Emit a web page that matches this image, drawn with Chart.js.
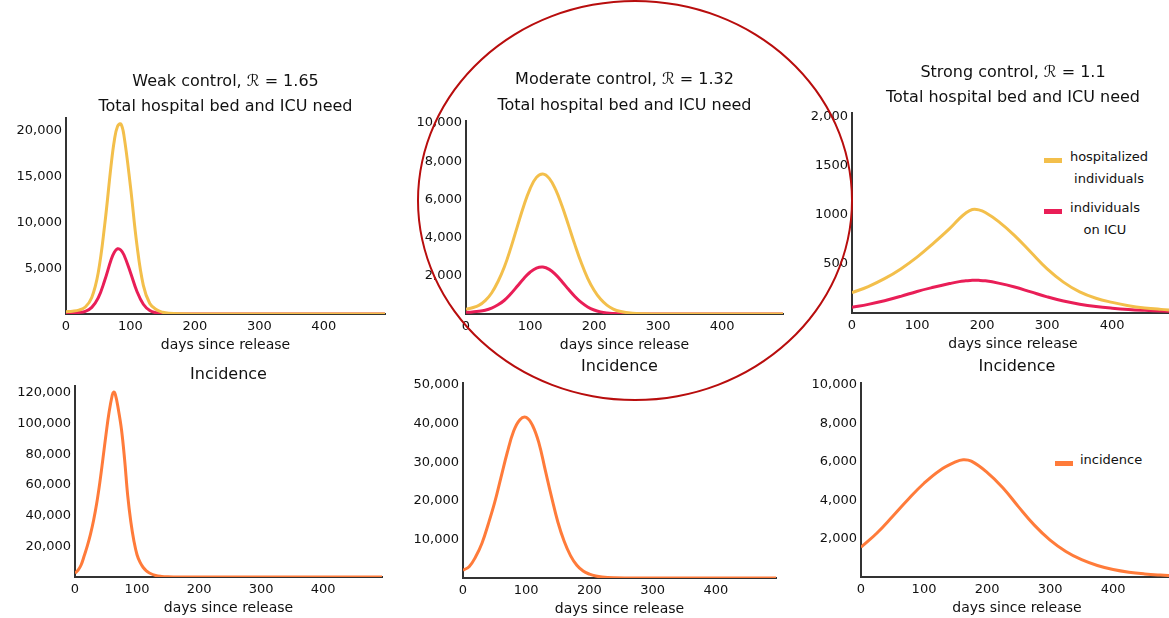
<!DOCTYPE html>
<html>
<head>
<meta charset="utf-8">
<script src="https://cdn.jsdelivr.net/npm/chart.js@4.4.1/dist/chart.umd.min.js"></script>
<style>
html, body { margin: 0; padding: 0; background: #fff; overflow: hidden; width: 1169px; height: 618px; }
body { position: relative; font-family: 'DejaVu Sans', sans-serif; color: #111; }
canvas { position: absolute; }
.legend { position: absolute; font-size: 13px; line-height: 22px; text-align: center; }
.swatch { position: absolute; width: 18px; height: 5px; }
#ring { position: absolute; box-sizing: border-box; border: 2.5px solid #b80d0d; border-radius: 50%;
        left: 417px; top: 0px; width: 436px; height: 401px; pointer-events: none; }
</style>
</head>
<body>

<div class="swatch" style="left:1044px;top:158px;background:#f3bf4b"></div>
<div class="legend" style="left:1066px;top:146px;width:86px">hospitalized<br>individuals</div>
<div class="swatch" style="left:1044px;top:209px;background:#e91e57"></div>
<div class="legend" style="left:1062px;top:197px;width:86px">individuals<br>on ICU</div>

<div class="swatch" style="left:1055px;top:461px;background:#ff7b3a"></div>
<div class="legend" style="left:1080px;top:449px">incidence</div>

<script>
// x axis (days since release)
const xTicks = [0, 100, 200, 300, 400];
const xMax = 495;

// weak control, R = 1.65
const weakDays = [0, 10, 20, 30, 40, 50, 60, 70, 75, 80, 85, 90, 100, 110, 120, 130, 140, 150, 160, 180, 200, 250, 300, 400, 495];
const weakHosp = [250, 300, 420, 760, 1800, 4500, 9700, 16250, 18950, 20500, 20750, 19450, 13940, 7580, 3130, 1150, 480, 190, 80, 20, 5, 0, 0, 0, 0];
const weakIcu  = [100, 120, 170, 290, 720, 1750, 3650, 5920, 6745, 7120, 6990, 6440, 4540, 2490, 1065, 380, 140, 55, 20, 5, 0, 0, 0, 0, 0];
const weakYTicks = [5000, 10000, 15000, 20000];
const weakYLabels = ['5,000', '10,000', '15,000', '20,000'];

// moderate control, R = 1.32
const modDays = [0, 10, 20, 30, 40, 50, 60, 70, 80, 90, 100, 110, 120, 130, 140, 150, 160, 170, 180, 190, 200, 210, 220, 230, 240, 260, 280, 300, 400, 495];
const modHosp = [250, 330, 450, 700, 1100, 1700, 2470, 3460, 4560, 5640, 6550, 7150, 7330, 7100, 6510, 5650, 4650, 3630, 2680, 1870, 1245, 780, 465, 260, 140, 35, 10, 0, 0, 0];
const modIcu  = [90, 110, 140, 200, 310, 480, 720, 1060, 1450, 1850, 2185, 2400, 2455, 2335, 2060, 1690, 1290, 915, 605, 370, 210, 110, 55, 28, 15, 0, 0, 0, 0, 0];
const modYTicks = [2000, 4000, 6000, 8000, 10000];
const modYLabels = ['2,000', '4,000', '6,000', '8,000', '10,000'];

// strong control, R = 1.1
const strongDays = [0, 25, 50, 75, 100, 125, 150, 165, 175, 185, 195, 205, 225, 250, 275, 300, 325, 350, 375, 400, 425, 450, 475, 495];
const strongHosp = [207, 270, 350, 450, 570, 710, 860, 962, 1020, 1055, 1052, 1025, 935, 790, 620, 450, 315, 215, 150, 108, 75, 52, 37, 28];
const strongIcu  = [58, 88, 125, 170, 220, 262, 300, 320, 328, 334, 333, 328, 305, 265, 215, 165, 122, 90, 66, 49, 36, 27, 20, 15];
const strongYTicks = [500, 1000, 1500, 2000];
const strongYLabels = ['500', '1000', '1500', '2,000'];

// incidence
const weakIncDays = [0, 5, 10, 15, 20, 25, 30, 35, 40, 45, 50, 55, 60, 62, 65, 70, 75, 80, 85, 90, 95, 100, 105, 110, 115, 120, 130, 140, 150, 160, 180, 200, 300, 400, 495];
const weakInc = [2500, 4500, 8000, 14000, 20500, 28000, 37000, 48000, 61500, 77000, 93000, 107500, 118500, 120500, 119000, 109000, 96000, 76500, 53000, 36000, 23500, 14500, 9500, 6200, 4000, 2600, 1000, 400, 150, 60, 10, 0, 0, 0, 0];
const weakIncYTicks = [20000, 40000, 60000, 80000, 100000, 120000];
const weakIncYLabels = ['20,000', '40,000', '60,000', '80,000', '100,000', '120,000'];

const modIncDays = [0, 10, 20, 30, 40, 50, 60, 70, 80, 90, 100, 110, 120, 130, 140, 150, 160, 170, 180, 190, 200, 210, 220, 240, 260, 300, 400, 495];
const modInc = [2000, 3000, 5500, 9000, 14000, 19500, 26000, 32500, 38000, 41000, 41600, 39500, 35000, 28000, 21000, 14500, 9500, 5800, 3300, 1800, 1000, 500, 250, 70, 20, 0, 0, 0];
const modIncYTicks = [10000, 20000, 30000, 40000, 50000];
const modIncYLabels = ['10,000', '20,000', '30,000', '40,000', '50,000'];

const strongIncDays = [0, 25, 50, 75, 100, 125, 150, 162, 175, 200, 225, 250, 275, 300, 325, 350, 375, 400, 425, 450, 475, 495];
const strongInc = [1550, 2280, 3150, 4050, 4880, 5550, 5990, 6100, 6030, 5450, 4650, 3650, 2700, 1920, 1330, 900, 600, 390, 250, 160, 100, 65];
const strongIncYTicks = [2000, 4000, 6000, 8000, 10000];
const strongIncYLabels = ['2,000', '4,000', '6,000', '8,000', '10,000'];

const HOSP = '#f3bf4b';
const ICU = '#e91e57';
const INC = '#ff7b3a';
const AXIS = '#333';
const TEXT = '#111';

Chart.defaults.font.family = "'DejaVu Sans', sans-serif";
Chart.defaults.color = TEXT;

const AXIS_W = 64;   // y axis width, mirrored on the right so titles centre over the plot
const X_AXIS_H = 40;

function series(days, values, color) {
    return {
        data: days.map((d, i) => ({ x: d, y: values[i] })),
        borderColor: color,
        backgroundColor: color,
        borderWidth: 3,
        pointRadius: 0,
        fill: false,
        tension: 0.4
    };
}

function makePanel(p) {
    const canvas = document.createElement('canvas');
    const top = Math.floor(p.canvasTop);
    canvas.width = AXIS_W + (p.right - p.left) + AXIS_W;
    canvas.height = p.bottom + X_AXIS_H - top;
    canvas.style.left = (p.left - AXIS_W) + 'px';
    canvas.style.top = top + 'px';
    document.body.appendChild(canvas);

    const titleFont = { size: 16, weight: 'normal' };

    return new Chart(canvas, {
        type: 'line',
        data: { datasets: p.datasets },
        options: {
            responsive: false,
            animation: false,
            events: [],
            layout: { padding: { top: p.canvasTop - top, left: 0, right: 0, bottom: 0 } },
            plugins: {
                legend: { display: false },
                tooltip: { enabled: false },
                title: {
                    display: true,
                    text: p.title,
                    font: titleFont,
                    color: '#111',
                    padding: { top: 0, bottom: p.pad1 }
                },
                subtitle: {
                    display: !!p.subtitle,
                    text: p.subtitle || '',
                    font: titleFont,
                    color: '#111',
                    padding: { top: 0, bottom: p.pad2 || 0 }
                }
            },
            scales: {
                x: {
                    type: 'linear',
                    min: 0,
                    max: xMax,
                    afterBuildTicks: (s) => { s.ticks = xTicks.map((v) => ({ value: v })); },
                    afterFit: (s) => { s.height = X_AXIS_H; },
                    grid: { display: false, drawTicks: false },
                    border: { display: true, color: AXIS, width: 2 },
                    ticks: { padding: 5, font: { size: 13 }, color: TEXT, maxRotation: 0, autoSkip: false,
                             callback: (v) => String(v) },
                    title: { display: true, text: 'days since release', font: { size: 14 }, color: TEXT, padding: 0 }
                },
                y: {
                    type: 'linear',
                    min: 0,
                    max: p.yMax,
                    afterBuildTicks: (s) => { s.ticks = p.yTicks.map((v) => ({ value: v })); },
                    afterFit: (s) => { s.width = AXIS_W; },
                    grid: { display: false, drawTicks: false },
                    border: { display: true, color: AXIS, width: 2 },
                    ticks: { padding: 4, font: { size: 13 }, color: TEXT, autoSkip: false,
                             callback: (v, i) => p.yLabels[i] }
                },
                yPad: {
                    type: 'linear',
                    position: 'right',
                    afterFit: (s) => { s.width = AXIS_W; },
                    grid: { display: false, drawTicks: false },
                    border: { display: false },
                    ticks: { display: false }
                }
            }
        }
    });
}

makePanel({
    left: 66, right: 385, bottom: 314, canvasTop: 71.9, pad1: 5.8, pad2: 1.9,
    title: 'Weak control, ℛ = 1.65', subtitle: 'Total hospital bed and ICU need',
    yMax: 21400, yTicks: weakYTicks, yLabels: weakYLabels,
    datasets: [series(weakDays, weakHosp, HOSP), series(weakDays, weakIcu, ICU)]
});

makePanel({
    left: 466, right: 783, bottom: 314, canvasTop: 70.4, pad1: 6.8, pad2: 5.4,
    title: 'Moderate control, ℛ = 1.32', subtitle: 'Total hospital bed and ICU need',
    yMax: 10100, yTicks: modYTicks, yLabels: modYLabels,
    datasets: [series(modDays, modHosp, HOSP), series(modDays, modIcu, ICU)]
});

makePanel({
    left: 852, right: 1174, bottom: 313, canvasTop: 63.1, pad1: 6.1, pad2: 5.4,
    title: 'Strong control, ℛ = 1.1', subtitle: 'Total hospital bed and ICU need',
    yMax: 2040, yTicks: strongYTicks, yLabels: strongYLabels,
    datasets: [series(strongDays, strongHosp, HOSP), series(strongDays, strongIcu, ICU)]
});

makePanel({
    left: 75, right: 382, bottom: 577, canvasTop: 365.4, pad1: 1.4,
    title: 'Incidence',
    yMax: 124500, yTicks: weakIncYTicks, yLabels: weakIncYLabels,
    datasets: [series(weakIncDays, weakInc, INC)]
});

makePanel({
    left: 463, right: 776, bottom: 578, canvasTop: 357.1, pad1: 6.7,
    title: 'Incidence',
    yMax: 50500, yTicks: modIncYTicks, yLabels: modIncYLabels,
    datasets: [series(modIncDays, modInc, INC)]
});

makePanel({
    left: 861, right: 1173, bottom: 577, canvasTop: 357.7, pad1: 6.1,
    title: 'Incidence',
    yMax: 10100, yTicks: strongIncYTicks, yLabels: strongIncYLabels,
    datasets: [series(strongIncDays, strongInc, INC)]
});
</script>
<div id="ring"></div>
</body>
</html>
